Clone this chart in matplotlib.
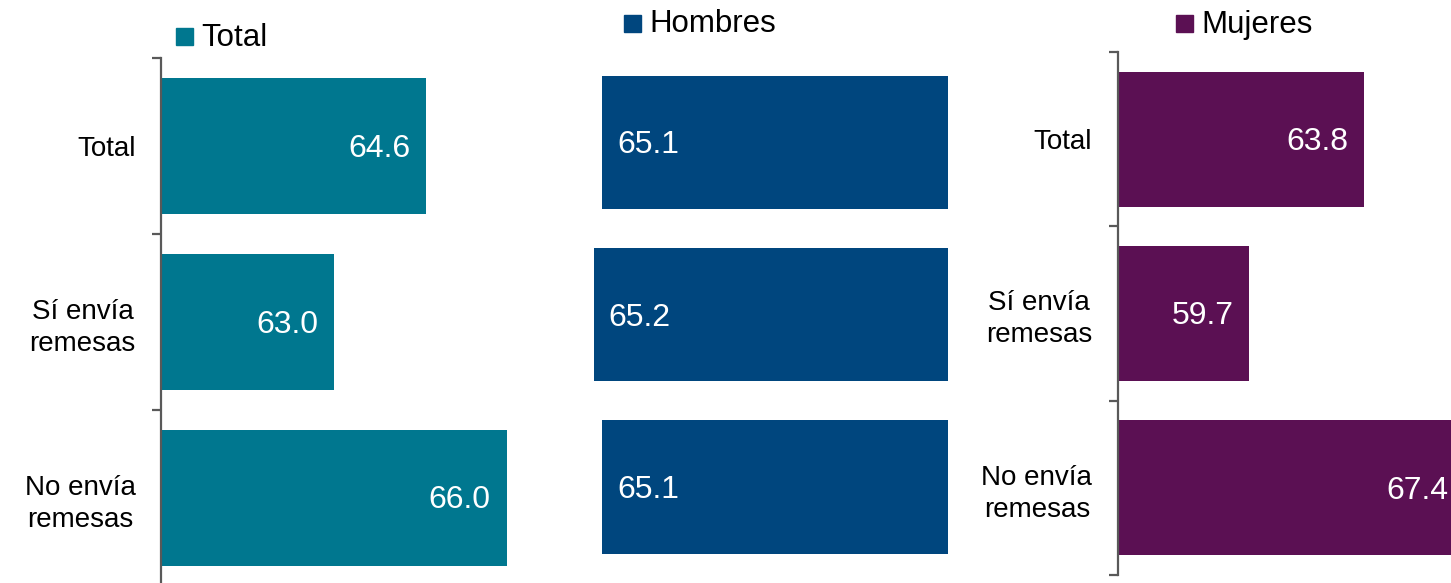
import matplotlib
matplotlib.use("Agg")
import matplotlib.pyplot as plt
from matplotlib.patches import Rectangle

plt.rcParams['font.family'] = ['Liberation Sans', 'DejaVu Sans']

categories = ["Total", "Sí envía\nremesas", "No envía\nremesas"]
total_vals = [64.6, 63.0, 66.0]
hombres_vals = [65.1, 65.2, 65.1]
mujeres_vals = [63.8, 59.7, 67.4]
series_names = ["Total", "Hombres", "Mujeres"]
colors = ["#00778F", "#00467E", "#5B1053"]

W, H = 1451, 583
fig = plt.figure(figsize=(W / 100, H / 100), dpi=100)


def ax_px(x0, y_top, x1, y_bot):
    return fig.add_axes([x0 / W, 1 - y_bot / H, (x1 - x0) / W, (y_bot - y_top) / H])


spine_col = "#595959"
cat_fs = 20
val_fs = 23
leg_fs = 22.5
bar_h = 0.775
ypos = list(range(len(categories)))


def style_axis(ax, show_axis):
    for s in ["top", "right", "bottom"]:
        ax.spines[s].set_visible(False)
    ax.set_xticks([])
    ax.set_ylim(len(categories) - 0.5, -0.5)
    if show_axis:
        ax.spines["left"].set_color(spine_col)
        ax.spines["left"].set_linewidth(1.6)
        ax.set_yticks([-0.5, 0.5, 1.5, 2.5])
        ax.set_yticklabels([])
        ax.tick_params(axis="y", which="major", direction="out", length=6.5,
                       width=1.6, color=spine_col)
        ax.set_yticks(ypos, minor=True)
        ax.set_yticklabels(categories, minor=True, fontsize=cat_fs,
                           multialignment="center", linespacing=1.3)
        ax.tick_params(axis="y", which="minor", length=0, pad=18.5)
    else:
        ax.spines["left"].set_visible(False)
        ax.set_yticks([])


dy = -2.0  # points, to visually centre digits in bars

# Left panel: Total
ax1 = ax_px(161.3, 58.5, 161.3 + 7 * 57.57, 585.5)
ax1.barh(ypos, [v - 60 for v in total_vals], left=60, height=bar_h, color=colors[0])
ax1.set_xlim(60, 67)
style_axis(ax1, True)
for y, v in zip(ypos, total_vals):
    ax1.annotate(f"{v:.1f}", (v, y), xytext=(-16 * 0.72, dy), textcoords="offset points",
                 ha="right", va="center", color="white", fontsize=val_fs)

# Middle panel: Hombres (bars grow leftwards)
ax2 = ax_px(948.3 - 4.6 * 84.4, 56.4, 948.3, 573.1)
ax2.barh(ypos, [v - 61 for v in hombres_vals], left=61, height=bar_h, color=colors[1])
ax2.set_xlim(61 + 4.6, 61)
style_axis(ax2, False)
for y, v in zip(ypos, hombres_vals):
    ax2.annotate(f"{v:.1f}", (v, y), xytext=(15 * 0.72, dy), textcoords="offset points",
                 ha="left", va="center", color="white", fontsize=val_fs)

# Right panel: Mujeres
ax3 = ax_px(1117.9, 52, 1117.9 + 15 * 27.98, 575)
ax3.barh(ypos, [v - 55 for v in mujeres_vals], left=55, height=bar_h, color=colors[2])
ax3.set_xlim(55, 70)
style_axis(ax3, True)
for y, v in zip(ypos, mujeres_vals):
    ax3.annotate(f"{v:.1f}", (v, y), xytext=(-16 * 0.72, dy), textcoords="offset points",
                 ha="right", va="center", color="white", fontsize=val_fs)

# Legend entries (square marker + text)
leg_pos = [(176, 28), (624, 15), (1176, 15)]
for (x, y), name, c in zip(leg_pos, series_names, colors):
    fig.patches.append(Rectangle((x / W, 1 - (y + 17) / H), 17 / W, 17 / H,
                                 transform=fig.transFigure, color=c))
    fig.text((x + 25) / W, 1 - (y + 17.5) / H, name, fontsize=leg_fs,
             ha="left", va="baseline", color="black")

fig.savefig("out.png", dpi=100)
